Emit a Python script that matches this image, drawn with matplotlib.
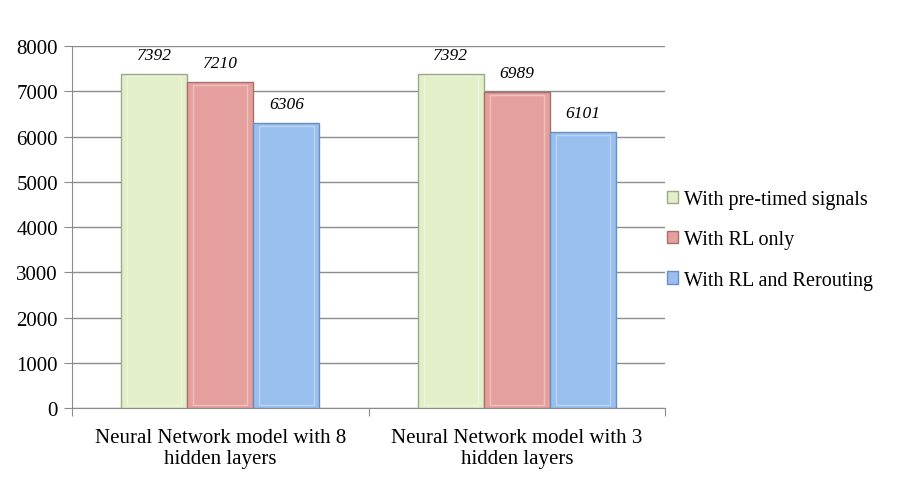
import numpy as np
import matplotlib.pyplot as plt

plt.rcParams['font.family'] = ['Liberation Serif', 'DejaVu Serif']

# data
categories = ['Neural Network model with 8\nhidden layers', 'Neural Network model with 3\nhidden layers']
series_names = ['With pre-timed signals', 'With RL only', 'With RL and Rerouting']
pre_timed = [7392, 7392]
rl_only = [7210, 6989]
rl_rerouting = [6306, 6101]

colors = ['#e2efc8', '#e5a09e', '#99bfee']
edges = ['#9ba889', '#a96f6d', '#6a8fbf']

fig = plt.figure(figsize=(8.99, 5.02), dpi=100)
ax = fig.add_axes([0.080, 0.185, 0.660, 0.721])

x = np.arange(len(categories))
w = 0.223
for i, (vals, name) in enumerate(zip([pre_timed, rl_only, rl_rerouting], series_names)):
    pos = x + (i - 1) * w
    bars = ax.bar(pos, vals, w, color=colors[i], edgecolor=edges[i], linewidth=1.0, label=name, zorder=3)
    # lighter inner bevel
    ax.bar(pos, np.array(vals) - 120, w * 0.82, bottom=60, color='none', edgecolor='white',
           linewidth=1.0, alpha=0.35, zorder=4)
    for b, v in zip(bars, vals):
        ax.annotate(str(v), (b.get_x() + b.get_width() / 2, v), xytext=(0, 8),
                    textcoords='offset points', ha='center', va='bottom',
                    fontsize=12.5, fontstyle='italic')

ax.set_xlim(-0.5, 1.5)
ax.set_ylim(0, 8000)
ax.set_yticks(range(0, 8001, 1000))
ax.yaxis.grid(True, color='#8c8c8c', linewidth=1.0, zorder=0)
ax.set_axisbelow(True)

ax.set_xticks([-0.5, 0.5, 1.5])
ax.set_xticklabels([])
ax.set_xticks(x, minor=True)
ax.set_xticklabels(categories, minor=True, fontsize=15)
ax.tick_params(axis='x', which='minor', length=0, pad=14)
ax.tick_params(axis='x', which='major', length=6, color='#8c8c8c', direction='out')
ax.tick_params(axis='y', length=6, color='#8c8c8c', labelsize=15, pad=4)

for s in ['top', 'right']:
    ax.spines[s].set_visible(False)
for s in ['left', 'bottom']:
    ax.spines[s].set_color('#8c8c8c')

handles, labels = ax.get_legend_handles_labels()
fig.legend(handles, labels, loc='center left', bbox_to_anchor=(0.722, 0.52), frameon=False,
           fontsize=14.5, handlelength=0.55, handleheight=0.55, handletextpad=0.3, labelspacing=1.05)

fig.savefig('out.png', dpi=100)
